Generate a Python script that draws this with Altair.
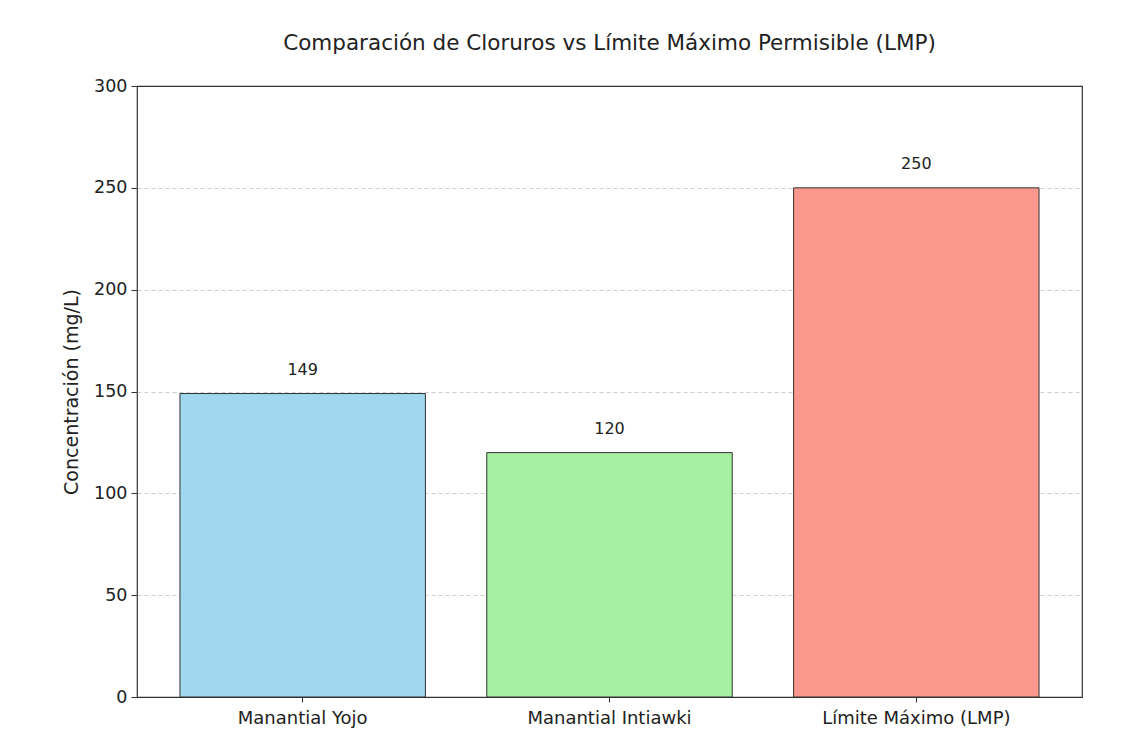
import altair as alt
import pandas as pd

categorias = ["Manantial Yojo", "Manantial Intiawki", "Límite Máximo (LMP)"]
valores = [149, 120, 250]
colores = ["#9fd8ee", "#a6f0a4", "#fa988d"]
ticks_y = [0, 50, 100, 150, 200, 250, 300]

df = pd.DataFrame({"cat": categorias, "val": valores, "color": colores})

FONT = "DejaVu Sans"

x_enc = alt.X(
    "cat:N",
    sort=categorias,
    title=None,
    scale=alt.Scale(paddingInner=0.2, paddingOuter=0.14),
    axis=alt.Axis(
        labelAngle=0, labelFontSize=18, labelFont=FONT, labelColor="#222",
        tickSize=5, tickColor="#333", domain=False, labelPadding=7, labelLimit=400,
    ),
)
y_enc = alt.Y(
    "val:Q",
    title="Concentración (mg/L)",
    scale=alt.Scale(domain=[0, 300], nice=False),
    axis=alt.Axis(
        values=ticks_y, labelFontSize=17.5, labelFont=FONT, labelColor="#222",
        titleFontSize=19, titleFont=FONT, titleFontWeight="normal", titleColor="#222",
        tickSize=6, tickColor="#333", domain=False, titlePadding=12, labelPadding=4,
        grid=True, gridColor="#cfcfcf", gridDash=[4, 3], gridWidth=1,
        gridOpacity=alt.condition("datum.value == 0 || datum.value == 300", alt.value(0), alt.value(1)),
    ),
)

bars = alt.Chart(df).mark_bar(stroke="#333", strokeWidth=1).encode(
    x=x_enc,
    y=y_enc,
    color=alt.Color("color:N", scale=None),
)

labels = alt.Chart(df).mark_text(
    dy=-16, baseline="bottom", fontSize=16, font=FONT, color="#222"
).encode(
    x=alt.X("cat:N", sort=categorias),
    y=alt.Y("val:Q"),
    text=alt.Text("val:Q"),
)

chart = (
    alt.layer(bars, labels)
    .properties(
        width=945,
        height=611,
        title=alt.TitleParams(
            "Comparación de Cloruros vs Límite Máximo Permisible (LMP)",
            fontSize=21.5, font=FONT, fontWeight="normal", color="#222",
            anchor="middle", offset=23,
        ),
        autosize=alt.AutoSizeParams(type="none"),
        padding={"left": 129, "top": 78, "right": 20, "bottom": 40},
        background="white",
    )
    .configure_view(stroke="#333", strokeWidth=1.2)
)

chart.save("out.html", embed_options={"renderer": "svg", "actions": False})
